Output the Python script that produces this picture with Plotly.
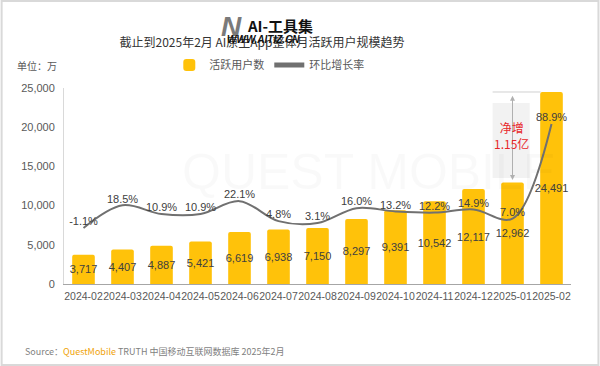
import plotly.graph_objects as go

months = ["2024-02", "2024-03", "2024-04", "2024-05", "2024-06", "2024-07", "2024-08",
          "2024-09", "2024-10", "2024-11", "2024-12", "2025-01", "2025-02"]
active_users = [3717, 4407, 4887, 5421, 6619, 6938, 7150, 8297, 9391, 10542, 12117, 12962, 24491]
mom_growth = [-1.1, 18.5, 10.9, 10.9, 22.1, 4.8, 3.1, 16.0, 13.2, 12.2, 14.9, 7.0, 88.9]
mom_labels = [f"{v:.1f}%" for v in mom_growth]

W, H = 600, 366
L, R, T, B = 63.5, 28.5, 88, 82
PW, PH = W - L - R, H - T - B

def px(x):
    return (x - L) / PW

def py(y):
    return (H - B - y) / PH

CJK = "Noto Sans CJK SC"
NUM = "Liberation Sans, Noto Sans CJK SC"

fig = go.Figure()
fig.add_trace(go.Bar(
    x=months, y=active_users, name="活跃用户数",
    marker=dict(color="#FFC20A", line=dict(width=0)),
    width=0.58,
    texttemplate="%{y:,}", textposition="inside", insidetextanchor="middle",
    textangle=0, constraintext="none",
    textfont=dict(family=NUM, size=11, color="#404040"),
))
fig.add_trace(go.Scatter(
    x=months, y=mom_growth, name="环比增长率", yaxis="y2",
    mode="lines+text", text=mom_labels, textposition="top center",
    textfont=dict(family=NUM, size=11, color="#404040"),
    line=dict(color="#707070", width=2, shape="spline", smoothing=1.0),
    cliponaxis=False,
))

shapes = [
    # outer frame
    dict(type="rect", xref="paper", yref="paper",
         x0=px(1), x1=px(599), y0=py(365), y1=py(1),
         line=dict(color="#d9d9d9", width=2), layer="below"),
    # annotation box
    dict(type="rect", xref="x", yref="y", x0=10.49, x1=11.44, y0=13520, y1=23087,
         fillcolor="#f2f2f2", line=dict(width=0), layer="below"),
    # top reference line
    dict(type="line", xref="x", yref="y", x0=10.49, x1=11.72, y0=24491, y1=24491,
         line=dict(color="#d0d0d0", width=1)),
]

annotations = [
    dict(x="2025-01", y=12962 + 300, ax="2025-01", ay=24491 - 300, xref="x", yref="y",
         axref="x", ayref="y", text="", showarrow=True, arrowhead=2, arrowside="end+start",
         arrowsize=1, arrowwidth=1, arrowcolor="#b0b0b0"),
    dict(x=10.965, y=18900, xref="x", yref="y", text="净增<br>1.15亿", showarrow=False,
         font=dict(family=CJK, size=12, color="#E8262A"), align="center"),
    dict(x=px(14), y=py(65), xref="paper", yref="paper", xanchor="left", yanchor="middle",
         text="单位：万", showarrow=False, font=dict(family=CJK, size=10, color="#595959")),
    dict(x=px(22), y=py(351), xref="paper", yref="paper", xanchor="left", yanchor="middle",
         text="Source：<span style='color:#F0A30A'>QuestMobile</span> TRUTH 中国移动互联网数据库 2025年2月",
         showarrow=False, font=dict(family=CJK, size=9, color="#7f7f7f")),
    # faint background watermark
    dict(x=px(180), y=py(172), xref="paper", yref="paper", xanchor="left", yanchor="middle",
         text="QUEST MOBILE", showarrow=False,
         font=dict(family="Liberation Sans", size=50, color="rgba(0,0,0,0.025)")),
    # site watermark over title
    dict(x=px(231), y=py(26), xref="paper", yref="paper", xanchor="center", yanchor="middle",
         text="<b><i>N</i></b>", showarrow=False,
         font=dict(family="Liberation Sans", size=28, color="#7a7a7a")),
    dict(x=px(245), y=py(25), xref="paper", yref="paper", xanchor="left", yanchor="middle",
         text="<b>AI-工具集</b>", showarrow=False,
         font=dict(family=CJK, size=15, color="#111111")),
    dict(x=px(263), y=py(39), xref="paper", yref="paper", xanchor="center", yanchor="middle",
         text="<b><i>WWW.AITIZ.CN</i></b>", showarrow=False,
         font=dict(family="Liberation Sans", size=10, color="#111111")),
]

fig.update_layout(
    width=W, height=H,
    margin=dict(l=L, r=R, t=T, b=B, pad=0, autoexpand=False),
    paper_bgcolor="white", plot_bgcolor="white",
    title=dict(text="截止到2025年2月 AI原生App整体月活跃用户规模趋势",
               x=262 / W, xanchor="center", y=1 - 43 / H, yanchor="middle",
               xref="container", yref="container",
               font=dict(family=CJK, size=12, color="#333333")),
    showlegend=True,
    legend=dict(orientation="h", x=px(169), y=py(65), xanchor="left", yanchor="middle",
                font=dict(family=CJK, size=11, color="#595959"),
                bgcolor="rgba(0,0,0,0)", itemsizing="constant"),
    bargap=0.42,
    barcornerradius=2,
    xaxis=dict(type="category", range=[-0.5, 12.5], showline=True, linecolor="#a6a6a6",
               linewidth=1, ticks="", showgrid=False, zeroline=False, tickangle=0,
               automargin=False, ticklabelstandoff=2,
               tickfont=dict(family=NUM, size=10.5, color="#595959")),
    yaxis=dict(range=[0, 25000], tickvals=[0, 5000, 10000, 15000, 20000, 25000],
               tickformat=",", showline=True, linecolor="#d9d9d9", linewidth=1,
               showgrid=False, zeroline=False, ticks="", ticklen=0, automargin=False,
               ticklabelstandoff=6,
               tickfont=dict(family=NUM, size=11, color="#595959")),
    yaxis2=dict(overlaying="y", side="right", range=[-49.6, 120], visible=False,
                showgrid=False, zeroline=False),
    shapes=shapes,
    annotations=annotations,
)

fig.write_html("out.html", config={"displayModeBar": False},
               post_script="document.body.style.margin='0';document.body.style.overflow='hidden';")
